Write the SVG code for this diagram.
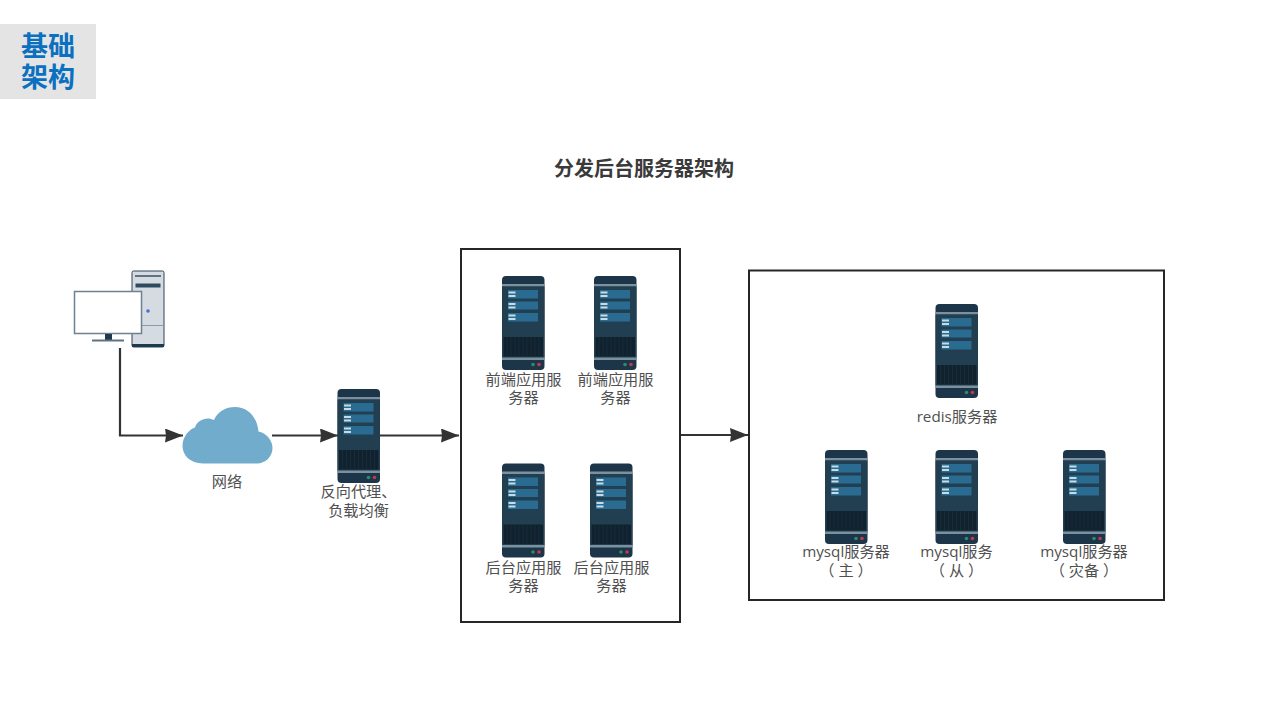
<svg xmlns="http://www.w3.org/2000/svg" xmlns:xlink="http://www.w3.org/1999/xlink" width="1280" height="720" viewBox="0 0 1280 720">
<style>
text{font-family:"Open Sans","Noto Sans CJK SC",sans-serif;font-size:15.200px;fill:#505050;text-anchor:middle}
.frame{fill:#fff;stroke:#262626;stroke-width:2}
.conn{fill:none;stroke:#333;stroke-width:2.200}
.head{fill:#333}
</style>
<defs>
<marker id="arrow" markerUnits="userSpaceOnUse" markerWidth="19" markerHeight="14" refX="18" refY="7" orient="auto"><path class="head" d="M0 0L18 7L0 14L1 7Z"/></marker>
<g id="server">
<rect x="0" y="0" width="42.500" height="94" rx="4" fill="#1d3548"/>
<rect x="0" y="8" width="42.500" height="2.500" fill="#7c919f"/>
<rect x="0" y="10.500" width="42.500" height="71" fill="#223f51"/>
<rect x="6" y="14" width="30" height="8.500" fill="#2a6c91"/>
<rect x="6" y="25.500" width="30" height="8" fill="#2a6c91"/>
<rect x="6" y="37" width="30" height="8.500" fill="#2a6c91"/>
<g fill="#c5dbe6"><rect x="6.500" y="15.500" width="7" height="2"/><rect x="6.500" y="19" width="7" height="2"/><rect x="6.500" y="27" width="7" height="2"/><rect x="6.500" y="30.500" width="7" height="2"/><rect x="6.500" y="38.500" width="7" height="2"/><rect x="6.500" y="42" width="7" height="2"/></g>
<rect x="1.500" y="61" width="39.500" height="19.500" fill="#11222f"/>
<path d="M5 61v19.500M9 61v19.500M13 61v19.500M17 61v19.500M21 61v19.500M25 61v19.500M29 61v19.500M33 61v19.500M37 61v19.500" stroke="#182b39" stroke-width="1"/>
<rect x="0" y="81.500" width="42.500" height="2.500" fill="#7c919f"/>
<circle cx="31" cy="88.500" r="1.800" fill="#2e8b6a"/>
<circle cx="37" cy="88.500" r="1.800" fill="#c0394f"/>
</g>
</defs>
<rect width="1280" height="720" fill="#fff"/>
<g id="badge">
<rect x="0" y="24" width="96" height="75" fill="#e4e4e4"/>
<text style="font-size:27px;font-weight:700;fill:#0b70c0"><tspan x="48" y="56">基础</tspan><tspan x="48" y="87">架构</tspan></text>
</g>
<text id="title" x="644" y="175.500" style="font-size:20px;font-weight:700;fill:#3a3a3a">分发后台服务器架构</text>
<g id="frontend-backend-box"><rect class="frame" x="461" y="249" width="219" height="373"/></g>
<g id="data-box"><rect class="frame" x="749" y="270.500" width="415" height="329.500"/></g>
<g id="connectors">
<path class="conn" marker-end="url(#arrow)" d="M120 348V435.500H183"/>
<path class="conn" marker-end="url(#arrow)" d="M272 435.500H338"/>
<path class="conn" marker-end="url(#arrow)" d="M380 435.500H459"/>
<path class="conn" marker-end="url(#arrow)" d="M681 435H748"/>
</g>
<g id="client">
<rect x="132" y="271" width="32" height="76" rx="1.500" fill="#d5dbe0" stroke="#2c4658" stroke-width="1"/>
<rect x="135" y="275" width="26" height="2" fill="#5d7282"/>
<rect x="135.500" y="283.500" width="25" height="4" fill="#2f4b60"/>
<path d="M132 325.500H164" stroke="#8a9aa6" stroke-width="1"/>
<rect x="132" y="344" width="32" height="3" fill="#1e3a4d"/>
<circle cx="148" cy="311" r="1.800" fill="#3f73d8"/>
<rect x="74.500" y="291.500" width="67" height="42" fill="#fff" stroke="#6e8190" stroke-width="1.500"/>
<rect x="105" y="334" width="7" height="6" fill="#1e3a4d"/>
<rect x="92" y="339.500" width="32" height="2" fill="#5d7282"/>
</g>
<g id="network">
<path fill="#72accd" d="M203 463.500C190 463.500 182.500 455 182.500 446C182.500 436 190 429 195 427.500C197 420 207 416 214 420C218 411 226 407 235 407C247 407 257 416 258.500 431.500C266 433 272.500 440 272.500 448C272.500 457 265 463.500 257 463.500Z"/>
<text x="227" y="486.500">网络</text>
</g>
<g id="proxy"><use xlink:href="#server" href="#server" x="337.500" y="389"/>
<text x="358.500" y="496.500">反向代理、</text><text x="358.500" y="515.500">负载均衡</text></g>
<g id="fe1"><use xlink:href="#server" href="#server" x="502" y="276"/>
<text x="523.500" y="384.500">前端应用服</text><text x="523.500" y="402.500">务器</text></g>
<g id="fe2"><use xlink:href="#server" href="#server" x="594" y="276"/>
<text x="615.500" y="384.500">前端应用服</text><text x="615.500" y="402.500">务器</text></g>
<g id="be1"><use xlink:href="#server" href="#server" x="502" y="463.500"/>
<text x="523.500" y="572.500">后台应用服</text><text x="523.500" y="590.500">务器</text></g>
<g id="be2"><use xlink:href="#server" href="#server" x="590" y="463.500"/>
<text x="611.500" y="572.500">后台应用服</text><text x="611.500" y="590.500">务器</text></g>
<g id="redis"><use xlink:href="#server" href="#server" x="935.500" y="304"/>
<text x="957" y="422">redis服务器</text></g>
<g id="mysql-main"><use xlink:href="#server" href="#server" x="825" y="450"/>
<text x="846" y="557">mysql服务器</text><text x="846" y="575.500">（ 主 ）</text></g>
<g id="mysql-slave"><use xlink:href="#server" href="#server" x="935.500" y="450"/>
<text x="956.500" y="557">mysql服务</text><text x="956.500" y="575.500">（ 从 ）</text></g>
<g id="mysql-dr"><use xlink:href="#server" href="#server" x="1063" y="450"/>
<text x="1084" y="557">mysql服务器</text><text x="1084" y="575.500">（ 灾备 ）</text></g>
</svg>
